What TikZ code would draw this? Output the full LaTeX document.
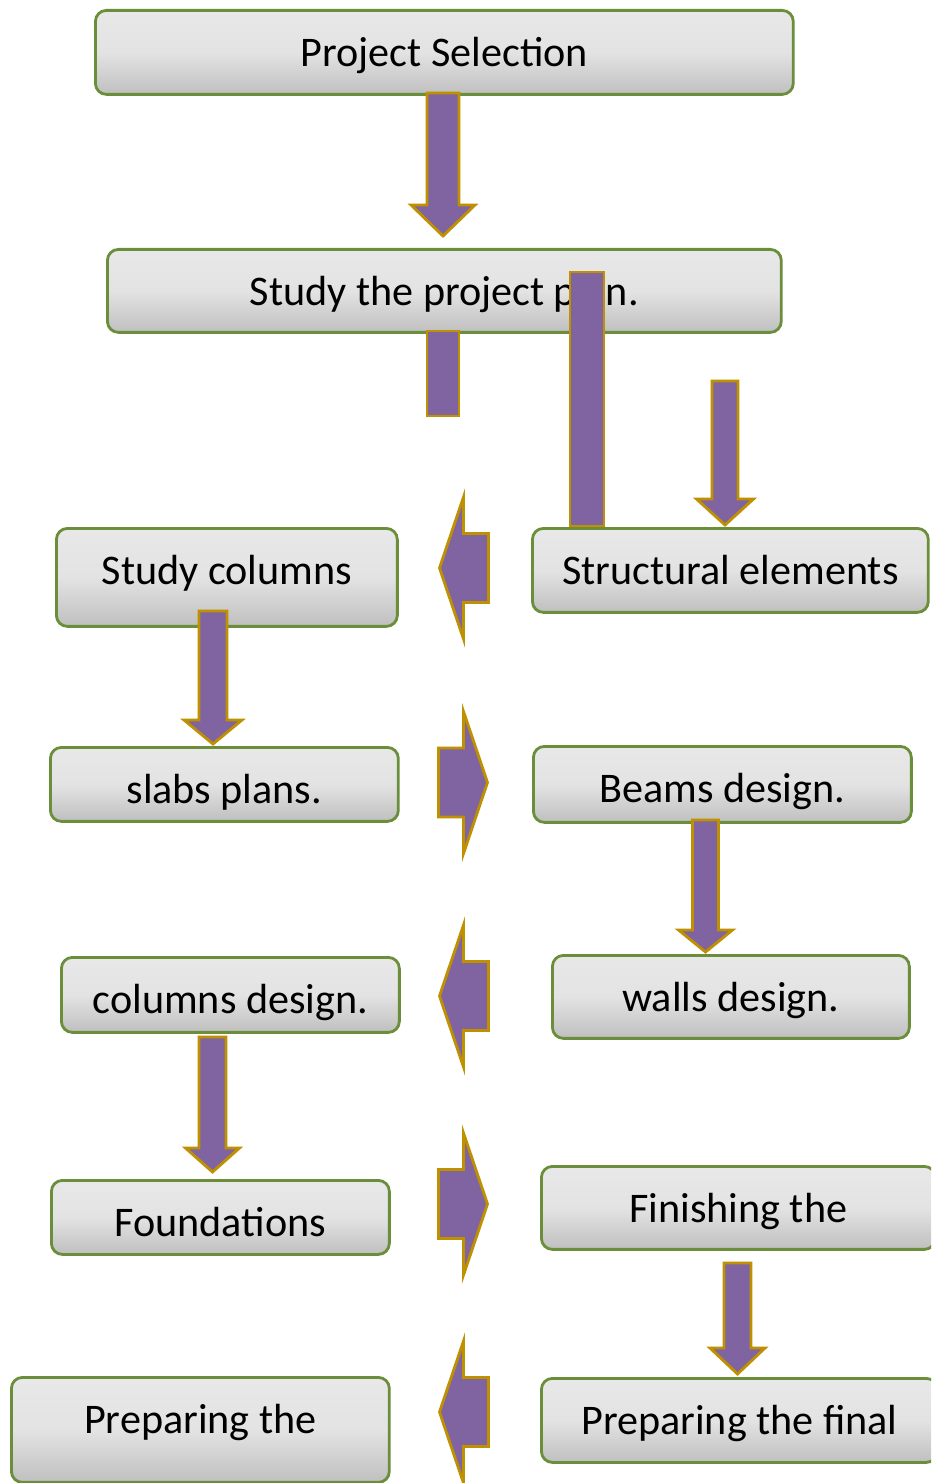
\documentclass[tikz,border=0pt]{standalone}
\usepackage{fontspec}
\setmainfont{Carlito}
\usepackage{tikz}
\usetikzlibrary{shapes.geometric, arrows, positioning}

\definecolor{boxgreen}{HTML}{6B8E3A}
\definecolor{arrowfill}{HTML}{8064A2}
\definecolor{arrowline}{HTML}{BF9000}

\begin{document}
\begin{tikzpicture}[x=0.02cm, y=-0.02cm]
            \tikzstyle{block} = [rectangle, draw=boxgreen, line width=1.6pt, top color=black!9, bottom color=black!25, middle color=black!11, rounded corners=0.22cm, inner sep=0pt, text height=1.12cm, anchor=north west, font=\fontsize{24}{29}\selectfont]
            \tikzstyle{fat} = [draw=arrowline, fill=arrowfill, line width=1.6pt, line join=miter]

            \useasboundingbox (0,0) rectangle (931,1483);
            \clip (0,0) rectangle (931,1483);

            \node [block, minimum width=13.96cm, text depth=.56cm] (sel) at (94,9) {Project Selection};
            \node [block, minimum width=13.48cm, text depth=.54cm] (plan) at (106,248) {Study the project plan.};
            \node [block, minimum width=6.82cm, text depth=.84cm] (scol) at (55,527) {Study columns};
            \node [block, minimum width=7.92cm, text depth=.56cm] (struct) at (531,527) {Structural elements};
            \node [block, minimum width=6.96cm, text depth=.36cm] (slabs) at (49,746) {slabs plans.};
            \node [block, minimum width=7.56cm, text depth=.40cm] (beams) at (532,745) {Beams design.};
            \node [block, minimum width=6.76cm, text depth=.38cm] (cdes) at (60,956) {columns design.};
            \node [block, minimum width=7.14cm, text depth=.54cm] (walls) at (551,954) {walls design.};
            \node [block, minimum width=6.76cm, text depth=.36cm] (found) at (50,1179) {Foundations};
            \node [block, minimum width=7.88cm, text depth=.54cm] (finish) at (540,1165) {Finishing the};
            \node [block, minimum width=7.56cm, text depth=.98cm] (prepl) at (10,1376) {Preparing the};
            \node [block, minimum width=7.92cm, text depth=.56cm] (prepr) at (540,1377) {Preparing the final};

            % down arrows: centre/half shaft/half head/top/head base/tip
            \foreach \x/\s/\h/\t/\b/\p in {443/16/32/93/205/236, 725/13/28.5/381/499/525, 213/14/29/611/720/744, 705.5/13/27/820/930/952, 212.5/13.5/27/1037/1148/1172, 737.5/13.5/27.5/1263/1348/1374}
                \path [fat] (\x-\s,\t) -- (\x+\s,\t) -- (\x+\s,\b) -- (\x+\h,\b) -- (\x,\p) -- (\x-\h,\b) -- (\x-\s,\b) -- cycle;

            % bars without heads
            \path [fat] (427,331) rectangle (459,416);
            \path [fat] (570,272) rectangle (604,526);

            % side arrows, -1 points left, 1 points right
            \foreach \y/\d in {568/-1, 782.5/1, 996/-1, 1204/1, 1412/-1}
                \path [fat] (463.5-\d*25,\y-34.5) -- (463.5,\y-34.5) -- (463.5,\y-71) -- (463.5+\d*24,\y) -- (463.5,\y+71) -- (463.5,\y+34.5) -- (463.5-\d*25,\y+34.5) -- cycle;
        \end{tikzpicture}
\end{document}
